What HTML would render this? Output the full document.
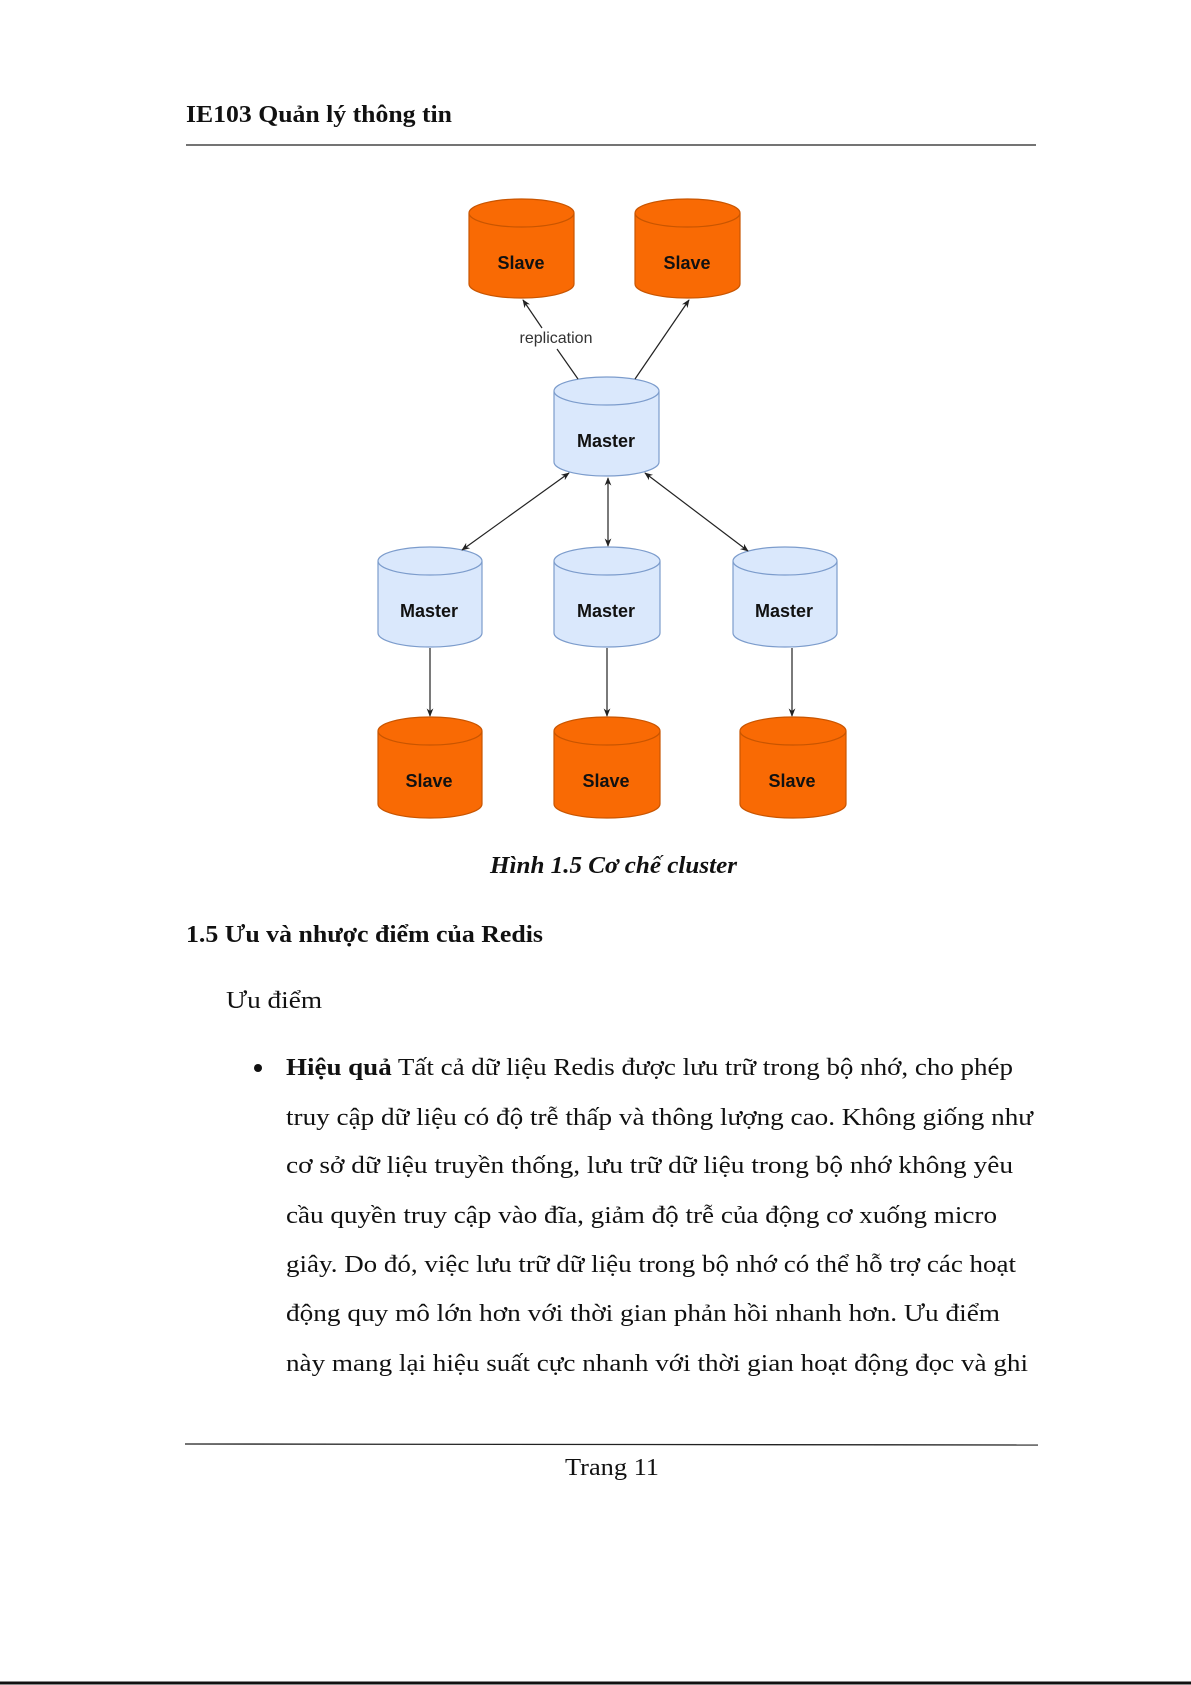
<!DOCTYPE html>
<html><head><meta charset="utf-8"><style>
body{margin:0;background:#fff}
svg{display:block}
.s{font-family:"Liberation Serif",serif;fill:#111}
.n{font-family:"Liberation Sans",sans-serif;font-weight:bold;font-size:18px;fill:#111;text-anchor:middle}
</style></head><body>
<svg width="1191" height="1685" viewBox="0 0 1191 1685" xmlns="http://www.w3.org/2000/svg">
<defs>
<marker id="a" viewBox="0 0 10 10" refX="9" refY="5" markerWidth="7" markerHeight="7" orient="auto-start-reverse"><path d="M0,1 L10,5 L0,9 L3,5z" fill="#222"/></marker>
</defs>
<text x="186" y="122" class="s" font-size="24" font-weight="bold" textLength="266" lengthAdjust="spacingAndGlyphs">IE103 Quản lý thông tin</text>
<line x1="186" y1="145" x2="1036" y2="145" stroke="#222" stroke-width="1.3"/>

<g stroke-width="1.2">
<path d="M469,213 v71 a52.5,14 0 0 0 105,0 v-71 a52.5,14 0 0 0 -105,0 a52.5,14 0 0 0 105,0" fill="#f96a04" stroke="#c95500"/>
<path d="M635,213 v71 a52.5,14 0 0 0 105,0 v-71 a52.5,14 0 0 0 -105,0 a52.5,14 0 0 0 105,0" fill="#f96a04" stroke="#c95500"/>
<path d="M554,391 v71 a52.5,14 0 0 0 105,0 v-71 a52.5,14 0 0 0 -105,0 a52.5,14 0 0 0 105,0" fill="#dae8fc" stroke="#7c9ccc"/>
<path d="M378,561 v72 a52,14 0 0 0 104,0 v-72 a52,14 0 0 0 -104,0 a52,14 0 0 0 104,0" fill="#dae8fc" stroke="#7c9ccc"/>
<path d="M554,561 v72 a53,14 0 0 0 106,0 v-72 a53,14 0 0 0 -106,0 a53,14 0 0 0 106,0" fill="#dae8fc" stroke="#7c9ccc"/>
<path d="M733,561 v72 a52,14 0 0 0 104,0 v-72 a52,14 0 0 0 -104,0 a52,14 0 0 0 104,0" fill="#dae8fc" stroke="#7c9ccc"/>
<path d="M378,731 v73 a52,14 0 0 0 104,0 v-73 a52,14 0 0 0 -104,0 a52,14 0 0 0 104,0" fill="#f96a04" stroke="#c95500"/>
<path d="M554,731 v73 a53,14 0 0 0 106,0 v-73 a53,14 0 0 0 -106,0 a53,14 0 0 0 106,0" fill="#f96a04" stroke="#c95500"/>
<path d="M740,731 v73 a53,14 0 0 0 106,0 v-73 a53,14 0 0 0 -106,0 a53,14 0 0 0 106,0" fill="#f96a04" stroke="#c95500"/>
</g>
<text x="521" y="269" class="n">Slave</text>
<text x="687" y="269" class="n">Slave</text>
<text x="606" y="447" class="n">Master</text>
<text x="429" y="617" class="n">Master</text>
<text x="606" y="617" class="n">Master</text>
<text x="784" y="617" class="n">Master</text>
<text x="429" y="787" class="n">Slave</text>
<text x="606" y="787" class="n">Slave</text>
<text x="792" y="787" class="n">Slave</text>

<g stroke="#222" stroke-width="1.2" fill="none">
<line x1="578" y1="379" x2="557" y2="349"/>
<line x1="542" y1="328" x2="523" y2="300" marker-end="url(#a)"/>
<line x1="635" y1="379" x2="689" y2="300" marker-end="url(#a)"/>
<line x1="569" y1="473" x2="462" y2="550" marker-start="url(#a)" marker-end="url(#a)"/>
<line x1="608" y1="478" x2="608" y2="546" marker-start="url(#a)" marker-end="url(#a)"/>
<line x1="645" y1="473" x2="748" y2="551" marker-start="url(#a)" marker-end="url(#a)"/>
<line x1="430" y1="648" x2="430" y2="716" marker-end="url(#a)"/>
<line x1="607" y1="648" x2="607" y2="716" marker-end="url(#a)"/>
<line x1="792" y1="648" x2="792" y2="716" marker-end="url(#a)"/>
</g>
<text x="556" y="343" font-family="Liberation Sans,sans-serif" font-size="16" fill="#333" text-anchor="middle">replication</text>

<text x="490" y="873" class="s" font-size="24" font-style="italic" font-weight="bold" textLength="247" lengthAdjust="spacingAndGlyphs">Hình 1.5 Cơ chế cluster</text>
<text x="186" y="942" class="s" font-size="24" font-weight="bold" textLength="357" lengthAdjust="spacingAndGlyphs">1.5 Ưu và nhược điểm của Redis</text>
<text x="226" y="1008" class="s" font-size="24" textLength="96" lengthAdjust="spacingAndGlyphs">Ưu điểm</text>
<circle cx="258" cy="1068" r="4" fill="#111"/>
<g class="s" font-size="24">
<text x="286" y="1075" textLength="727" lengthAdjust="spacingAndGlyphs"><tspan font-weight="bold">Hiệu quả</tspan> Tất cả dữ liệu Redis được lưu trữ trong bộ nhớ, cho phép</text>
<text x="286" y="1125" textLength="747" lengthAdjust="spacingAndGlyphs">truy cập dữ liệu có độ trễ thấp và thông lượng cao. Không giống như</text>
<text x="286" y="1173" textLength="727" lengthAdjust="spacingAndGlyphs">cơ sở dữ liệu truyền thống, lưu trữ dữ liệu trong bộ nhớ không yêu</text>
<text x="286" y="1223" textLength="711" lengthAdjust="spacingAndGlyphs">cầu quyền truy cập vào đĩa, giảm độ trễ của động cơ xuống micro</text>
<text x="286" y="1272" textLength="730" lengthAdjust="spacingAndGlyphs">giây. Do đó, việc lưu trữ dữ liệu trong bộ nhớ có thể hỗ trợ các hoạt</text>
<text x="286" y="1321" textLength="714" lengthAdjust="spacingAndGlyphs">động quy mô lớn hơn với thời gian phản hồi nhanh hơn. Ưu điểm</text>
<text x="286" y="1371" textLength="742" lengthAdjust="spacingAndGlyphs">này mang lại hiệu suất cực nhanh với thời gian hoạt động đọc và ghi</text>
</g>
<line x1="185" y1="1444" x2="1038" y2="1445" stroke="#222" stroke-width="1.3"/>
<text x="565" y="1475" class="s" font-size="24" textLength="94" lengthAdjust="spacingAndGlyphs">Trang 11</text>
<line x1="0" y1="1683" x2="1191" y2="1683" stroke="#111" stroke-width="3"/>
</svg>
</body></html>
